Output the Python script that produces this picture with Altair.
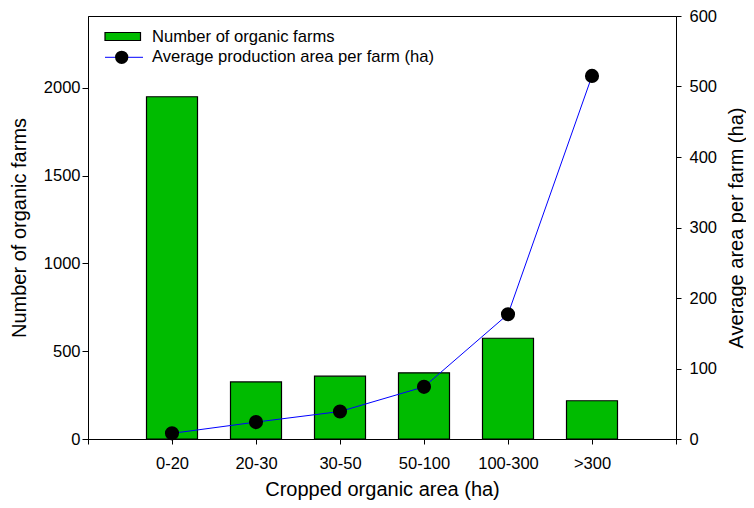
import json
import altair as alt
import pandas as pd

categories = ["0-20", "20-30", "30-50", "50-100", "100-300", ">300"]
farms = [1950, 325, 358, 377, 574, 218]
avg_area = [8, 24, 39, 74, 177, 515]
positions = list(range(1, len(categories) + 1))

farm_ticks = [0, 500, 1000, 1500, 2000]
area_ticks = [0, 100, 200, 300, 400, 500, 600]
x_ticks = list(range(0, len(categories) + 2))

df = pd.DataFrame({"cat": categories, "pos": positions, "farms": farms, "area": avg_area})

FONT = "Liberation Sans"
GREEN = "#00bb00"
BLUE = "#0000ff"

label_expr = (
    f"datum.value >= 1 && datum.value <= {len(categories)} ? "
    f"{json.dumps(categories)}[datum.value - 1] : ''"
)

x_enc = alt.X(
    "pos:Q",
    scale=alt.Scale(domain=[0, len(categories) + 1], nice=False, zero=False, padding=0),
    axis=alt.Axis(
        values=x_ticks, labelExpr=label_expr, tickSize=5, labelPadding=11,
        labelOverlap=False, labelFlush=False, grid=False,
        title="Cropped organic area (ha)", titleX=294, titleY=56,
        titleBaseline="alphabetic", titleAlign="center",
    ),
)

bars = alt.Chart(df).mark_bar(size=51, fill=GREEN, stroke="black", strokeWidth=1.2).encode(
    x=x_enc,
    y=alt.Y(
        "farms:Q",
        scale=alt.Scale(domain=[0, 2410], nice=False),
        axis=alt.Axis(
            values=farm_ticks, format="d", orient="left", tickSize=6, labelPadding=2, grid=False,
            title="Number of organic farms", titleAngle=270, titleX=-63, titleY=211.5,
            titleBaseline="alphabetic", titleAlign="center",
        ),
    ),
)

line = alt.Chart(df).mark_line(
    color=BLUE, strokeWidth=1,
    point=alt.OverlayMarkDef(size=200, color="black", filled=True, opacity=1),
).encode(
    x=x_enc,
    y=alt.Y(
        "area:Q",
        scale=alt.Scale(domain=[0, 600], nice=False),
        axis=alt.Axis(
            values=area_ticks, format="d", orient="right", tickSize=5, labelPadding=8, grid=False,
            title="Average area per farm (ha)", titleAngle=270, titleX=66, titleY=211.5,
            titleBaseline="alphabetic", titleAlign="center",
        ),
    ),
)

one = pd.DataFrame({"k": [0]})
leg_rect = alt.Chart(one).mark_rect(fill=GREEN, stroke="black", strokeWidth=1.2).encode(
    x=alt.value(17), x2=alt.value(52.5), y=alt.value(16.5), y2=alt.value(24.5)
)
leg_rule = alt.Chart(one).mark_rule(color=BLUE, strokeWidth=1).encode(
    x=alt.value(17), x2=alt.value(55), y=alt.value(41.3)
)
leg_pt = alt.Chart(one).mark_circle(size=177, color="black", opacity=1).encode(
    x=alt.value(33.7), y=alt.value(41.3)
)
leg_t1 = alt.Chart(one).mark_text(
    text="Number of organic farms", align="left", baseline="middle",
    font=FONT, fontSize=16.6, color="black",
).encode(x=alt.value(64), y=alt.value(21))
leg_t2 = alt.Chart(one).mark_text(
    text="Average production area per farm (ha)", align="left", baseline="middle",
    font=FONT, fontSize=16.6, color="black",
).encode(x=alt.value(64), y=alt.value(41))

chart = (
    alt.layer(bars, line, leg_rect, leg_rule, leg_pt, leg_t1, leg_t2)
    .resolve_scale(y="independent")
    .properties(
        width=588, height=423,
        padding={"left": 80, "top": 8, "right": 70, "bottom": 61},
        autosize=alt.AutoSizeParams(type="none"),
    )
    .configure_view(stroke="black", strokeWidth=1)
    .configure_axis(
        labelFont=FONT, labelFontSize=16.5, labelColor="black",
        titleFont=FONT, titleFontSize=20, titleFontWeight="normal", titleColor="black",
        domainColor="black", domainWidth=1, tickColor="black", tickWidth=1,
    )
)

chart.save("out.html", embed_options={"renderer": "svg", "actions": False})
